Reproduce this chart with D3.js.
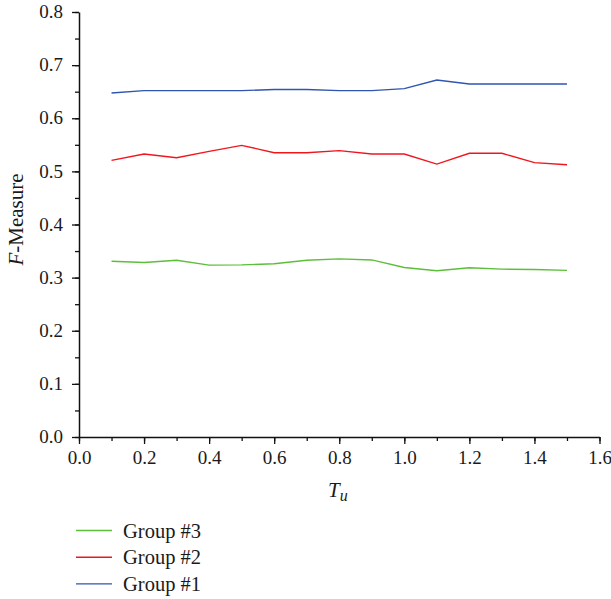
<!DOCTYPE html>
<html>
<head>
<meta charset="utf-8">
<script src="https://cdn.jsdelivr.net/npm/d3@7"></script>
<style>
  html, body { margin: 0; padding: 0; background: #fff; }
  svg { display: block; }
  text { font-family: "Liberation Serif", "DejaVu Serif", serif; fill: #1a1a1a; }
</style>
</head>
<body>
<svg id="chart" width="611" height="599"></svg>
<script>
const xValues = [0.1, 0.2, 0.3, 0.4, 0.5, 0.6, 0.7, 0.8, 0.9, 1.0, 1.1, 1.2, 1.3, 1.4, 1.5];
const group1 = [0.6475, 0.652, 0.652, 0.652, 0.652, 0.654, 0.654, 0.652, 0.652, 0.6557, 0.672, 0.6645, 0.6645, 0.6645, 0.6645];
const group2 = [0.5208, 0.5327, 0.5258, 0.5377, 0.549, 0.5352, 0.5352, 0.539, 0.5327, 0.5327, 0.5138, 0.534, 0.534, 0.5164, 0.5126];
const group3 = [0.3309, 0.3284, 0.3327, 0.3235, 0.324, 0.326, 0.3327, 0.3352, 0.3333, 0.3191, 0.313, 0.3185, 0.316, 0.3154, 0.3136];
const seriesNames = ["Group #3", "Group #2", "Group #1"];
const seriesColors = ["#5cbf3a", "#f0161e", "#2f55b0"];
const xTickLabels = ["0.0", "0.2", "0.4", "0.6", "0.8", "1.0", "1.2", "1.4", "1.6"];
const yTickLabels = ["0.0", "0.1", "0.2", "0.3", "0.4", "0.5", "0.6", "0.7", "0.8"];

const svg = d3.select("#chart");
const x = d3.scaleLinear().domain([0, 1.6]).range([79, 599.5]);
const y = d3.scaleLinear().domain([0, 0.8]).range([437, 12]);

// minor ticks
const xMinor = d3.range(0, 17).map(i => i / 10);
const yMinor = d3.range(0, 17).map(i => i / 20);
svg.append("g").attr("transform", `translate(0,${y(0)})`)
  .call(d3.axisBottom(x).tickValues(xMinor).tickSize(4).tickFormat(""))
  .call(g => g.select(".domain").remove())
  .call(g => g.selectAll("line").attr("stroke", "#111").attr("stroke-width", 1.3));
svg.append("g").attr("transform", `translate(${x(0)},0)`)
  .call(d3.axisLeft(y).tickValues(yMinor).tickSize(4).tickFormat(""))
  .call(g => g.select(".domain").remove())
  .call(g => g.selectAll("line").attr("stroke", "#111").attr("stroke-width", 1.3));

// major axes
const xAxis = svg.append("g").attr("transform", `translate(0,${y(0)})`)
  .call(d3.axisBottom(x).tickValues(xTickLabels.map(Number)).tickSize(7).tickSizeOuter(0)
    .tickFormat((d, i) => xTickLabels[i]));
xAxis.select(".domain").attr("stroke", "#111").attr("stroke-width", 1.5);
xAxis.selectAll(".tick line").attr("stroke", "#111").attr("stroke-width", 1.3);
xAxis.selectAll(".tick text").style("font-size", "19px").attr("dy", "0.9em").attr("y", 10);

const yAxis = svg.append("g").attr("transform", `translate(${x(0)},0)`)
  .call(d3.axisLeft(y).tickValues(yTickLabels.map(Number)).tickSize(7).tickSizeOuter(0)
    .tickFormat((d, i) => yTickLabels[i]));
yAxis.select(".domain").attr("stroke", "#111").attr("stroke-width", 1.5);
yAxis.selectAll(".tick line").attr("stroke", "#111").attr("stroke-width", 1.3);
yAxis.selectAll(".tick text").style("font-size", "19px").attr("x", -16).attr("dy", "0.3em");

// lines
const groups = [group3, group2, group1];
const line = d3.line().x((d, i) => x(xValues[i])).y(d => y(d));
groups.forEach((vals, k) => {
  svg.append("path").datum(vals)
    .attr("fill", "none")
    .attr("stroke", seriesColors[k])
    .attr("stroke-width", 1.4)
    .attr("d", line);
});

// axis titles
const yt = svg.append("text")
  .attr("transform", `translate(23,${(y(0) + y(0.8)) / 2 - 5}) rotate(-90)`)
  .attr("text-anchor", "middle").style("font-size", "21px");
yt.append("tspan").attr("font-style", "italic").text("F");
yt.append("tspan").text("-Measure");

const xt = svg.append("text").attr("x", 328).attr("y", 497).style("font-size", "21px");
xt.append("tspan").attr("font-style", "italic").text("T");
xt.append("tspan").attr("font-style", "italic").style("font-size", "16px").attr("dy", 4).text("u");

// legend
const legend = svg.append("g");
seriesNames.forEach((name, k) => {
  const ly = 530.5 + k * 26.7;
  legend.append("line").attr("x1", 76).attr("x2", 112).attr("y1", ly).attr("y2", ly)
    .attr("stroke", seriesColors[k]).attr("stroke-width", 1.4);
  legend.append("text").attr("x", 123).attr("y", ly + 7).style("font-size", "20.5px").text(name);
});
</script>
</body>
</html>
